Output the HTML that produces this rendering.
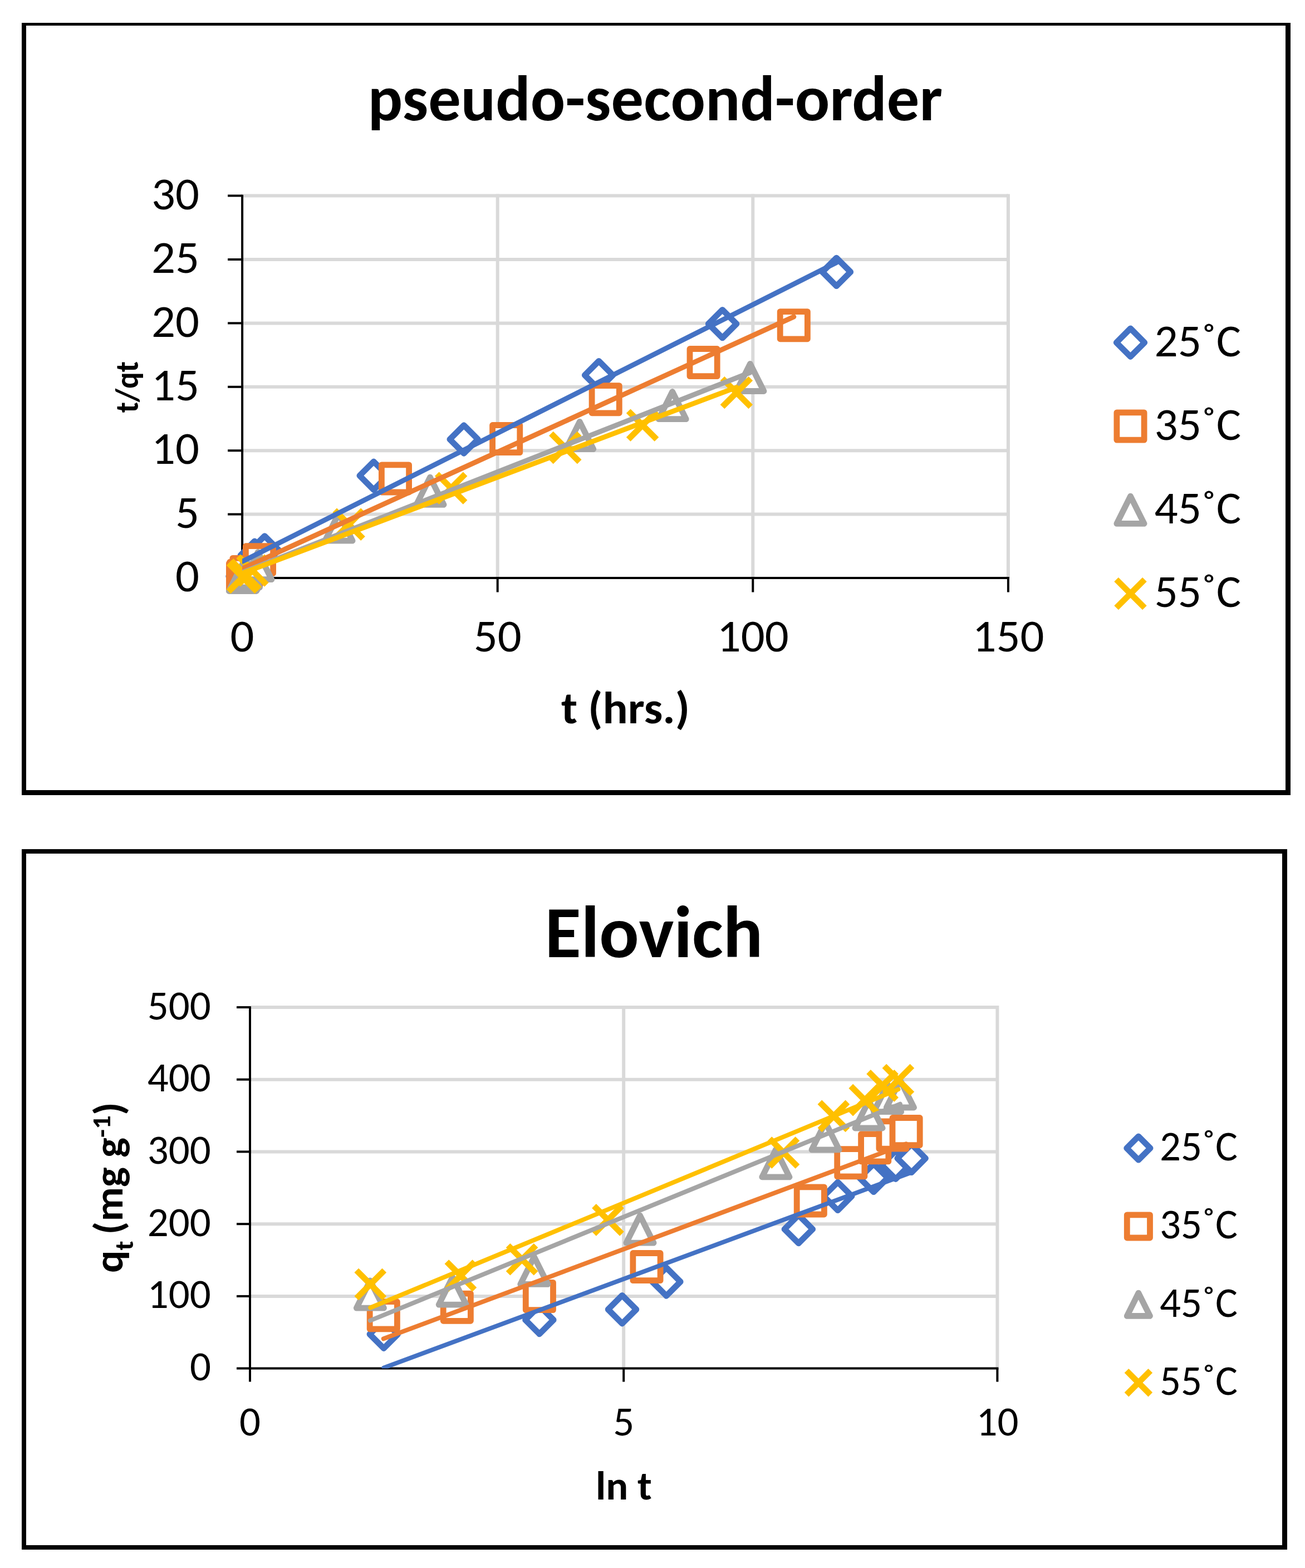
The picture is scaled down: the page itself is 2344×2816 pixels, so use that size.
<!DOCTYPE html>
<html><head><meta charset="utf-8"><title>pseudo-second-order and Elovich kinetics</title>
<style>html,body{margin:0;padding:0;background:#fff;width:2344px;height:2816px;overflow:hidden}svg{display:block}text{font-family:Carlito, 'Liberation Sans', sans-serif;fill:#000}</style></head>
<body><svg width="2344" height="2816" viewBox="0 0 2344 2816">
<rect x="0" y="0" width="2344" height="2816" fill="#fff"/>
<rect x="39" y="41" width="2279" height="5" fill="#000"/>
<rect x="39" y="1419" width="2279" height="9" fill="#000"/>
<rect x="39" y="41" width="8" height="1387" fill="#000"/>
<rect x="2309" y="41" width="9" height="1387" fill="#000"/>
<rect x="39" y="1525" width="2273" height="8" fill="#000"/>
<rect x="39" y="2775" width="2273" height="8" fill="#000"/>
<rect x="39" y="1525" width="8" height="1258" fill="#000"/>
<rect x="2303" y="1525" width="9" height="1258" fill="#000"/>
<line x1="435.1" y1="923.6" x2="1810.9" y2="923.6" stroke="#D9D9D9" stroke-width="6.0"/>
<line x1="435.1" y1="809.2" x2="1810.9" y2="809.2" stroke="#D9D9D9" stroke-width="6.0"/>
<line x1="435.1" y1="694.8" x2="1810.9" y2="694.8" stroke="#D9D9D9" stroke-width="6.0"/>
<line x1="435.1" y1="580.4" x2="1810.9" y2="580.4" stroke="#D9D9D9" stroke-width="6.0"/>
<line x1="435.1" y1="466.0" x2="1810.9" y2="466.0" stroke="#D9D9D9" stroke-width="6.0"/>
<line x1="435.1" y1="351.5" x2="1810.9" y2="351.5" stroke="#D9D9D9" stroke-width="6.0"/>
<line x1="893.7" y1="348.5" x2="893.7" y2="1038.0" stroke="#D9D9D9" stroke-width="6.0"/>
<line x1="1352.3" y1="348.5" x2="1352.3" y2="1038.0" stroke="#D9D9D9" stroke-width="6.0"/>
<line x1="1810.9" y1="348.5" x2="1810.9" y2="1038.0" stroke="#D9D9D9" stroke-width="6.0"/>
<line x1="435.1" y1="349.8" x2="435.1" y2="1063.5" stroke="#000" stroke-width="4.0"/>
<line x1="409.1" y1="1038.0" x2="1812.9" y2="1038.0" stroke="#000" stroke-width="4.0"/>
<line x1="409.1" y1="923.6" x2="435.1" y2="923.6" stroke="#000" stroke-width="4.0"/>
<line x1="409.1" y1="809.2" x2="435.1" y2="809.2" stroke="#000" stroke-width="4.0"/>
<line x1="409.1" y1="694.8" x2="435.1" y2="694.8" stroke="#000" stroke-width="4.0"/>
<line x1="409.1" y1="580.4" x2="435.1" y2="580.4" stroke="#000" stroke-width="4.0"/>
<line x1="409.1" y1="466.0" x2="435.1" y2="466.0" stroke="#000" stroke-width="4.0"/>
<line x1="409.1" y1="351.5" x2="435.1" y2="351.5" stroke="#000" stroke-width="4.0"/>
<line x1="893.7" y1="1038.0" x2="893.7" y2="1063.5" stroke="#000" stroke-width="4.0"/>
<line x1="1352.3" y1="1038.0" x2="1352.3" y2="1063.5" stroke="#000" stroke-width="4.0"/>
<line x1="1810.9" y1="1038.0" x2="1810.9" y2="1063.5" stroke="#000" stroke-width="4.0"/>
<text transform="translate(315.02 1062.21) scale(0.8480 0.8220)" font-size="100" font-weight="normal" textLength="50.69" lengthAdjust="spacingAndGlyphs">0</text>
<text transform="translate(315.02 947.81) scale(0.8480 0.8220)" font-size="100" font-weight="normal" textLength="50.69" lengthAdjust="spacingAndGlyphs">5</text>
<text transform="translate(272.03 833.40) scale(0.8480 0.8220)" font-size="100" font-weight="normal" textLength="101.38" lengthAdjust="spacingAndGlyphs">10</text>
<text transform="translate(272.03 718.99) scale(0.8480 0.8220)" font-size="100" font-weight="normal" textLength="101.38" lengthAdjust="spacingAndGlyphs">15</text>
<text transform="translate(272.03 604.58) scale(0.8480 0.8220)" font-size="100" font-weight="normal" textLength="101.38" lengthAdjust="spacingAndGlyphs">20</text>
<text transform="translate(272.03 490.17) scale(0.8480 0.8220)" font-size="100" font-weight="normal" textLength="101.38" lengthAdjust="spacingAndGlyphs">25</text>
<text transform="translate(272.03 375.76) scale(0.8480 0.8220)" font-size="100" font-weight="normal" textLength="101.38" lengthAdjust="spacingAndGlyphs">30</text>
<text transform="translate(413.61 1170.00) scale(0.8480 0.8220)" font-size="100" font-weight="normal" textLength="50.69" lengthAdjust="spacingAndGlyphs">0</text>
<text transform="translate(850.73 1170.00) scale(0.8480 0.8220)" font-size="100" font-weight="normal" textLength="101.38" lengthAdjust="spacingAndGlyphs">50</text>
<text transform="translate(1287.86 1170.00) scale(0.8480 0.8220)" font-size="100" font-weight="normal" textLength="152.06" lengthAdjust="spacingAndGlyphs">100</text>
<text transform="translate(1746.48 1170.00) scale(0.8480 0.8220)" font-size="100" font-weight="normal" textLength="152.06" lengthAdjust="spacingAndGlyphs">150</text>
<text transform="translate(660.81 215.58) scale(1.1647 1.1482)" font-size="100" font-weight="bold" textLength="886.05" lengthAdjust="spacingAndGlyphs">pseudo-second-order</text>
<text transform="translate(1007.96 1299.10) scale(0.8431 0.8135)" font-size="100" font-weight="bold" textLength="274.17" lengthAdjust="spacingAndGlyphs">t (hrs.)</text>
<text transform="translate(247.86 741.16) rotate(-90) scale(0.5552 0.5894)" font-size="100" font-weight="bold" textLength="165.97" lengthAdjust="spacingAndGlyphs">t/qt</text>
<path d="M436.0 1009.8L461.4 1035.1L436.0 1060.4L410.7 1035.1Z" fill="#fff" stroke="#4472C4" stroke-width="10.8" stroke-linejoin="round"/>
<path d="M442.5 996.3L467.8 1021.6L442.5 1047.0L417.1 1021.6Z" fill="#fff" stroke="#4472C4" stroke-width="10.8" stroke-linejoin="round"/>
<path d="M457.3 971.9L482.7 997.3L457.3 1022.6L432.0 997.3Z" fill="#fff" stroke="#4472C4" stroke-width="10.8" stroke-linejoin="round"/>
<path d="M475.3 962.6L500.6 987.9L475.3 1013.2L449.9 987.9Z" fill="#fff" stroke="#4472C4" stroke-width="10.8" stroke-linejoin="round"/>
<path d="M671.2 829.0L696.5 854.3L671.2 879.6L645.9 854.3Z" fill="#fff" stroke="#4472C4" stroke-width="10.8" stroke-linejoin="round"/>
<path d="M833.2 763.7L858.5 789.0L833.2 814.3L807.9 789.0Z" fill="#fff" stroke="#4472C4" stroke-width="10.8" stroke-linejoin="round"/>
<path d="M1075.6 648.4L1100.9 673.7L1075.6 699.0L1050.3 673.7Z" fill="#fff" stroke="#4472C4" stroke-width="10.8" stroke-linejoin="round"/>
<path d="M1297.6 556.3L1322.9 581.6L1297.6 606.9L1272.3 581.6Z" fill="#fff" stroke="#4472C4" stroke-width="10.8" stroke-linejoin="round"/>
<path d="M1502.4 463.1L1527.7 488.4L1502.4 513.7L1477.1 488.4Z" fill="#fff" stroke="#4472C4" stroke-width="10.8" stroke-linejoin="round"/>
<rect x="411.4" y="1011.5" width="49.2" height="49.2" fill="#fff" stroke="#ED7D31" stroke-width="10.8" stroke-linejoin="round"/>
<rect x="412.9" y="1009.1" width="49.2" height="49.2" fill="#fff" stroke="#ED7D31" stroke-width="10.8" stroke-linejoin="round"/>
<rect x="417.9" y="1002.4" width="49.2" height="49.2" fill="#fff" stroke="#ED7D31" stroke-width="10.8" stroke-linejoin="round"/>
<rect x="441.4" y="980.6" width="49.2" height="49.2" fill="#fff" stroke="#ED7D31" stroke-width="10.8" stroke-linejoin="round"/>
<rect x="685.4" y="834.8" width="49.2" height="49.2" fill="#fff" stroke="#ED7D31" stroke-width="10.8" stroke-linejoin="round"/>
<rect x="884.6" y="763.5" width="49.2" height="49.2" fill="#fff" stroke="#ED7D31" stroke-width="10.8" stroke-linejoin="round"/>
<rect x="1063.1" y="692.6" width="49.2" height="49.2" fill="#fff" stroke="#ED7D31" stroke-width="10.8" stroke-linejoin="round"/>
<rect x="1239.0" y="626.5" width="49.2" height="49.2" fill="#fff" stroke="#ED7D31" stroke-width="10.8" stroke-linejoin="round"/>
<rect x="1401.2" y="559.6" width="49.2" height="49.2" fill="#fff" stroke="#ED7D31" stroke-width="10.8" stroke-linejoin="round"/>
<path d="M435.9 1012.3L460.5 1061.5L411.3 1061.5Z" fill="#fff" stroke="#A5A5A5" stroke-width="10.8" stroke-linejoin="round"/>
<path d="M437.4 1010.2L462.0 1059.4L412.8 1059.4Z" fill="#fff" stroke="#A5A5A5" stroke-width="10.8" stroke-linejoin="round"/>
<path d="M441.9 1005.8L466.5 1055.0L417.3 1055.0Z" fill="#fff" stroke="#A5A5A5" stroke-width="10.8" stroke-linejoin="round"/>
<path d="M463.3 991.5L487.9 1040.7L438.7 1040.7Z" fill="#fff" stroke="#A5A5A5" stroke-width="10.8" stroke-linejoin="round"/>
<path d="M608.5 922.0L633.1 971.2L583.9 971.2Z" fill="#fff" stroke="#A5A5A5" stroke-width="10.8" stroke-linejoin="round"/>
<path d="M772.5 857.1L797.1 906.3L747.9 906.3Z" fill="#fff" stroke="#A5A5A5" stroke-width="10.8" stroke-linejoin="round"/>
<path d="M1041.2 757.4L1065.8 806.6L1016.6 806.6Z" fill="#fff" stroke="#A5A5A5" stroke-width="10.8" stroke-linejoin="round"/>
<path d="M1207.7 703.5L1232.3 752.7L1183.1 752.7Z" fill="#fff" stroke="#A5A5A5" stroke-width="10.8" stroke-linejoin="round"/>
<path d="M1347.4 653.3L1372.0 702.5L1322.8 702.5Z" fill="#fff" stroke="#A5A5A5" stroke-width="10.8" stroke-linejoin="round"/>
<path d="M410.5 1011.6L461.3 1062.4M461.3 1011.6L410.5 1062.4" fill="none" stroke="#FFC000" stroke-width="10.8" stroke-linecap="butt"/>
<path d="M412.3 1009.6L463.1 1060.4M463.1 1009.6L412.3 1060.4" fill="none" stroke="#FFC000" stroke-width="10.8" stroke-linecap="butt"/>
<path d="M415.5 1006.8L466.3 1057.6M466.3 1006.8L415.5 1057.6" fill="none" stroke="#FFC000" stroke-width="10.8" stroke-linecap="butt"/>
<path d="M428.1 999.2L478.9 1050.0M478.9 999.2L428.1 1050.0" fill="none" stroke="#FFC000" stroke-width="10.8" stroke-linecap="butt"/>
<path d="M601.2 916.4L652.0 967.2M652.0 916.4L601.2 967.2" fill="none" stroke="#FFC000" stroke-width="10.8" stroke-linecap="butt"/>
<path d="M784.8 851.2L835.6 902.0M835.6 851.2L784.8 902.0" fill="none" stroke="#FFC000" stroke-width="10.8" stroke-linecap="butt"/>
<path d="M989.9 778.6L1040.7 829.4M1040.7 778.6L989.9 829.4" fill="none" stroke="#FFC000" stroke-width="10.8" stroke-linecap="butt"/>
<path d="M1128.7 738.2L1179.5 789.0M1179.5 738.2L1128.7 789.0" fill="none" stroke="#FFC000" stroke-width="10.8" stroke-linecap="butt"/>
<path d="M1297.5 679.7L1348.3 730.5M1348.3 679.7L1297.5 730.5" fill="none" stroke="#FFC000" stroke-width="10.8" stroke-linecap="butt"/>
<clipPath id="c1"><rect x="435.1" y="300" width="1395.8" height="738.0"/></clipPath>
<g clip-path="url(#c1)">
<line x1="436.0" y1="1008.0" x2="1502.4" y2="471.6" stroke="#4472C4" stroke-width="9.0" stroke-linecap="round"/>
<line x1="436.0" y1="1020.9" x2="1425.8" y2="568.9" stroke="#ED7D31" stroke-width="9.0" stroke-linecap="round"/>
<line x1="435.9" y1="1027.7" x2="1347.4" y2="669.0" stroke="#A5A5A5" stroke-width="9.0" stroke-linecap="round"/>
<line x1="435.9" y1="1029.3" x2="1322.9" y2="695.6" stroke="#FFC000" stroke-width="9.0" stroke-linecap="round"/>
</g>
<path d="M2030.5 589.9L2055.8 615.2L2030.5 640.5L2005.2 615.2Z" fill="#fff" stroke="#4472C4" stroke-width="10.8" stroke-linejoin="round"/>
<text transform="translate(2073.50 639.50) scale(0.8330 0.8310)" font-size="100" font-weight="normal" textLength="186.78" lengthAdjust="spacingAndGlyphs">25˚C</text>
<rect x="2005.9" y="740.9" width="49.2" height="49.2" fill="#fff" stroke="#ED7D31" stroke-width="10.8" stroke-linejoin="round"/>
<text transform="translate(2073.50 789.80) scale(0.8330 0.8310)" font-size="100" font-weight="normal" textLength="186.78" lengthAdjust="spacingAndGlyphs">35˚C</text>
<path d="M2030.5 891.2L2055.1 940.4L2005.9 940.4Z" fill="#fff" stroke="#A5A5A5" stroke-width="10.8" stroke-linejoin="round"/>
<text transform="translate(2073.50 940.10) scale(0.8330 0.8310)" font-size="100" font-weight="normal" textLength="186.78" lengthAdjust="spacingAndGlyphs">45˚C</text>
<path d="M2005.1 1040.7L2055.9 1091.5M2055.9 1040.7L2005.1 1091.5" fill="none" stroke="#FFC000" stroke-width="10.8" stroke-linecap="butt"/>
<text transform="translate(2073.50 1090.40) scale(0.8330 0.8310)" font-size="100" font-weight="normal" textLength="186.78" lengthAdjust="spacingAndGlyphs">55˚C</text>
<line x1="449.0" y1="2327.9" x2="1791.4" y2="2327.9" stroke="#D9D9D9" stroke-width="6.0"/>
<line x1="449.0" y1="2198.2" x2="1791.4" y2="2198.2" stroke="#D9D9D9" stroke-width="6.0"/>
<line x1="449.0" y1="2068.4" x2="1791.4" y2="2068.4" stroke="#D9D9D9" stroke-width="6.0"/>
<line x1="449.0" y1="1938.7" x2="1791.4" y2="1938.7" stroke="#D9D9D9" stroke-width="6.0"/>
<line x1="449.0" y1="1809.0" x2="1791.4" y2="1809.0" stroke="#D9D9D9" stroke-width="6.0"/>
<line x1="1120.2" y1="1806.0" x2="1120.2" y2="2457.6" stroke="#D9D9D9" stroke-width="6.0"/>
<line x1="1791.4" y1="1806.0" x2="1791.4" y2="2457.6" stroke="#D9D9D9" stroke-width="6.0"/>
<line x1="449.0" y1="1807.3" x2="449.0" y2="2481.6" stroke="#000" stroke-width="4.0"/>
<line x1="425.0" y1="2457.6" x2="1793.4" y2="2457.6" stroke="#000" stroke-width="4.0"/>
<line x1="425.0" y1="2327.9" x2="449.0" y2="2327.9" stroke="#000" stroke-width="4.0"/>
<line x1="425.0" y1="2198.2" x2="449.0" y2="2198.2" stroke="#000" stroke-width="4.0"/>
<line x1="425.0" y1="2068.4" x2="449.0" y2="2068.4" stroke="#000" stroke-width="4.0"/>
<line x1="425.0" y1="1938.7" x2="449.0" y2="1938.7" stroke="#000" stroke-width="4.0"/>
<line x1="425.0" y1="1809.0" x2="449.0" y2="1809.0" stroke="#000" stroke-width="4.0"/>
<line x1="1120.2" y1="2457.6" x2="1120.2" y2="2481.6" stroke="#000" stroke-width="4.0"/>
<line x1="1791.4" y1="2457.6" x2="1791.4" y2="2481.6" stroke="#000" stroke-width="4.0"/>
<text transform="translate(340.88 2479.11) scale(0.7500 0.7450)" font-size="100" font-weight="normal" textLength="50.69" lengthAdjust="spacingAndGlyphs">0</text>
<text transform="translate(264.85 2349.39) scale(0.7500 0.7450)" font-size="100" font-weight="normal" textLength="152.06" lengthAdjust="spacingAndGlyphs">100</text>
<text transform="translate(264.85 2219.67) scale(0.7500 0.7450)" font-size="100" font-weight="normal" textLength="152.06" lengthAdjust="spacingAndGlyphs">200</text>
<text transform="translate(264.85 2089.95) scale(0.7500 0.7450)" font-size="100" font-weight="normal" textLength="152.06" lengthAdjust="spacingAndGlyphs">300</text>
<text transform="translate(264.85 1960.23) scale(0.7500 0.7450)" font-size="100" font-weight="normal" textLength="152.06" lengthAdjust="spacingAndGlyphs">400</text>
<text transform="translate(264.85 1830.51) scale(0.7500 0.7450)" font-size="100" font-weight="normal" textLength="152.06" lengthAdjust="spacingAndGlyphs">500</text>
<text transform="translate(429.99 2577.50) scale(0.7500 0.7450)" font-size="100" font-weight="normal" textLength="50.69" lengthAdjust="spacingAndGlyphs">0</text>
<text transform="translate(1101.19 2577.50) scale(0.7500 0.7450)" font-size="100" font-weight="normal" textLength="50.69" lengthAdjust="spacingAndGlyphs">5</text>
<text transform="translate(1753.38 2577.50) scale(0.7500 0.7450)" font-size="100" font-weight="normal" textLength="101.38" lengthAdjust="spacingAndGlyphs">10</text>
<text transform="translate(978.82 1718.90) scale(1.3300 1.3200)" font-size="100" font-weight="bold" textLength="294.20" lengthAdjust="spacingAndGlyphs">Elovich</text>
<text transform="translate(1069.93 2693.20) scale(0.7449 0.7314)" font-size="100" font-weight="bold" textLength="135.50" lengthAdjust="spacingAndGlyphs">ln t</text>
<text transform="translate(220.20 2286.07) rotate(-90) scale(0.7576 0.7230)" font-size="100" font-weight="bold" textLength="404.86" lengthAdjust="spacingAndGlyphs">q<tspan font-size="65" dy="26">t </tspan><tspan dy="-26">(mg g</tspan><tspan font-size="65" dy="-31">-1</tspan><tspan dy="31">)</tspan></text>
<path d="M689.3 2370.8L714.6 2396.1L689.3 2421.5L664.0 2396.1Z" fill="#fff" stroke="#4472C4" stroke-width="10.8" stroke-linejoin="round"/>
<path d="M968.9 2345.1L994.2 2370.4L968.9 2395.8L943.6 2370.4Z" fill="#fff" stroke="#4472C4" stroke-width="10.8" stroke-linejoin="round"/>
<path d="M1117.5 2326.3L1142.9 2351.6L1117.5 2377.0L1092.2 2351.6Z" fill="#fff" stroke="#4472C4" stroke-width="10.8" stroke-linejoin="round"/>
<path d="M1196.9 2276.6L1222.2 2301.9L1196.9 2327.3L1171.5 2301.9Z" fill="#fff" stroke="#4472C4" stroke-width="10.8" stroke-linejoin="round"/>
<path d="M1434.3 2182.2L1459.7 2207.5L1434.3 2232.8L1409.0 2207.5Z" fill="#fff" stroke="#4472C4" stroke-width="10.8" stroke-linejoin="round"/>
<path d="M1504.8 2123.0L1530.1 2148.3L1504.8 2173.7L1479.5 2148.3Z" fill="#fff" stroke="#4472C4" stroke-width="10.8" stroke-linejoin="round"/>
<path d="M1569.2 2090.1L1594.6 2115.4L1569.2 2140.7L1543.9 2115.4Z" fill="#fff" stroke="#4472C4" stroke-width="10.8" stroke-linejoin="round"/>
<path d="M1608.8 2066.8L1634.2 2092.2L1608.8 2117.5L1583.5 2092.2Z" fill="#fff" stroke="#4472C4" stroke-width="10.8" stroke-linejoin="round"/>
<path d="M1637.2 2054.9L1662.5 2080.2L1637.2 2105.6L1611.8 2080.2Z" fill="#fff" stroke="#4472C4" stroke-width="10.8" stroke-linejoin="round"/>
<rect x="664.2" y="2337.7" width="49.2" height="49.2" fill="#fff" stroke="#ED7D31" stroke-width="10.8" stroke-linejoin="round"/>
<rect x="796.2" y="2323.1" width="49.2" height="49.2" fill="#fff" stroke="#ED7D31" stroke-width="10.8" stroke-linejoin="round"/>
<rect x="944.3" y="2303.4" width="49.2" height="49.2" fill="#fff" stroke="#ED7D31" stroke-width="10.8" stroke-linejoin="round"/>
<rect x="1136.9" y="2250.5" width="49.2" height="49.2" fill="#fff" stroke="#ED7D31" stroke-width="10.8" stroke-linejoin="round"/>
<rect x="1431.2" y="2131.8" width="49.2" height="49.2" fill="#fff" stroke="#ED7D31" stroke-width="10.8" stroke-linejoin="round"/>
<rect x="1503.7" y="2063.7" width="49.2" height="49.2" fill="#fff" stroke="#ED7D31" stroke-width="10.8" stroke-linejoin="round"/>
<rect x="1546.6" y="2036.7" width="49.2" height="49.2" fill="#fff" stroke="#ED7D31" stroke-width="10.8" stroke-linejoin="round"/>
<rect x="1578.9" y="2013.9" width="49.2" height="49.2" fill="#fff" stroke="#ED7D31" stroke-width="10.8" stroke-linejoin="round"/>
<rect x="1603.0" y="2007.5" width="49.2" height="49.2" fill="#fff" stroke="#ED7D31" stroke-width="10.8" stroke-linejoin="round"/>
<path d="M664.9 2299.9L689.5 2349.1L640.3 2349.1Z" fill="#fff" stroke="#A5A5A5" stroke-width="10.8" stroke-linejoin="round"/>
<path d="M812.8 2293.9L837.4 2343.1L788.2 2343.1Z" fill="#fff" stroke="#A5A5A5" stroke-width="10.8" stroke-linejoin="round"/>
<path d="M959.4 2257.2L984.0 2306.4L934.8 2306.4Z" fill="#fff" stroke="#A5A5A5" stroke-width="10.8" stroke-linejoin="round"/>
<path d="M1149.5 2182.9L1174.1 2232.1L1124.9 2232.1Z" fill="#fff" stroke="#A5A5A5" stroke-width="10.8" stroke-linejoin="round"/>
<path d="M1393.4 2064.6L1418.0 2113.8L1368.8 2113.8Z" fill="#fff" stroke="#A5A5A5" stroke-width="10.8" stroke-linejoin="round"/>
<path d="M1482.6 2015.7L1507.2 2064.9L1458.0 2064.9Z" fill="#fff" stroke="#A5A5A5" stroke-width="10.8" stroke-linejoin="round"/>
<path d="M1560.5 1976.8L1585.1 2026.0L1535.9 2026.0Z" fill="#fff" stroke="#A5A5A5" stroke-width="10.8" stroke-linejoin="round"/>
<path d="M1594.1 1947.5L1618.7 1996.7L1569.5 1996.7Z" fill="#fff" stroke="#A5A5A5" stroke-width="10.8" stroke-linejoin="round"/>
<path d="M1616.9 1939.8L1641.5 1989.0L1592.3 1989.0Z" fill="#fff" stroke="#A5A5A5" stroke-width="10.8" stroke-linejoin="round"/>
<path d="M640.3 2281.5L690.3 2331.5M690.3 2281.5L640.3 2331.5" fill="none" stroke="#FFC000" stroke-width="10.8" stroke-linecap="butt"/>
<path d="M802.4 2266.0L852.4 2316.0M852.4 2266.0L802.4 2316.0" fill="none" stroke="#FFC000" stroke-width="10.8" stroke-linecap="butt"/>
<path d="M912.6 2236.7L962.6 2286.7M962.6 2236.7L912.6 2286.7" fill="none" stroke="#FFC000" stroke-width="10.8" stroke-linecap="butt"/>
<path d="M1067.0 2165.9L1117.0 2215.9M1117.0 2165.9L1067.0 2215.9" fill="none" stroke="#FFC000" stroke-width="10.8" stroke-linecap="butt"/>
<path d="M1382.5 2045.0L1432.5 2095.0M1432.5 2045.0L1382.5 2095.0" fill="none" stroke="#FFC000" stroke-width="10.8" stroke-linecap="butt"/>
<path d="M1472.4 1979.4L1522.4 2029.4M1522.4 1979.4L1472.4 2029.4" fill="none" stroke="#FFC000" stroke-width="10.8" stroke-linecap="butt"/>
<path d="M1528.3 1950.6L1578.3 2000.6M1578.3 1950.6L1528.3 2000.6" fill="none" stroke="#FFC000" stroke-width="10.8" stroke-linecap="butt"/>
<path d="M1560.1 1924.9L1610.1 1974.9M1610.1 1924.9L1560.1 1974.9" fill="none" stroke="#FFC000" stroke-width="10.8" stroke-linecap="butt"/>
<path d="M1588.4 1914.5L1638.4 1964.5M1638.4 1914.5L1588.4 1964.5" fill="none" stroke="#FFC000" stroke-width="10.8" stroke-linecap="butt"/>
<clipPath id="c2"><rect x="449.0" y="1750" width="1362.4" height="707.6"/></clipPath>
<g clip-path="url(#c2)">
<line x1="689.3" y1="2456.4" x2="1637.2" y2="2105.6" stroke="#4472C4" stroke-width="8.0" stroke-linecap="round"/>
<line x1="688.8" y1="2404.3" x2="1627.6" y2="2054.3" stroke="#ED7D31" stroke-width="8.0" stroke-linecap="round"/>
<line x1="664.9" y1="2371.6" x2="1616.9" y2="1982.7" stroke="#A5A5A5" stroke-width="8.0" stroke-linecap="round"/>
<line x1="665.3" y1="2348.5" x2="1613.4" y2="1956.4" stroke="#FFC000" stroke-width="8.0" stroke-linecap="round"/>
</g>
<path d="M2044.9 2040.8L2066.1 2062.0L2044.9 2083.2L2023.7 2062.0Z" fill="#fff" stroke="#4472C4" stroke-width="10.8" stroke-linejoin="round"/>
<text transform="translate(2083.00 2083.80) scale(0.7500 0.7540)" font-size="100" font-weight="normal" textLength="186.78" lengthAdjust="spacingAndGlyphs">25˚C</text>
<rect x="2024.3" y="2181.8" width="41.2" height="41.2" fill="#fff" stroke="#ED7D31" stroke-width="10.8" stroke-linejoin="round"/>
<text transform="translate(2083.00 2224.20) scale(0.7500 0.7540)" font-size="100" font-weight="normal" textLength="186.78" lengthAdjust="spacingAndGlyphs">35˚C</text>
<path d="M2044.9 2322.2L2065.5 2363.4L2024.3 2363.4Z" fill="#fff" stroke="#A5A5A5" stroke-width="10.8" stroke-linejoin="round"/>
<text transform="translate(2083.00 2364.60) scale(0.7500 0.7540)" font-size="100" font-weight="normal" textLength="186.78" lengthAdjust="spacingAndGlyphs">45˚C</text>
<path d="M2023.5 2461.8L2066.3 2504.6M2066.3 2461.8L2023.5 2504.6" fill="none" stroke="#FFC000" stroke-width="10.8" stroke-linecap="butt"/>
<text transform="translate(2083.00 2505.00) scale(0.7500 0.7540)" font-size="100" font-weight="normal" textLength="186.78" lengthAdjust="spacingAndGlyphs">55˚C</text>
</svg></body></html>
